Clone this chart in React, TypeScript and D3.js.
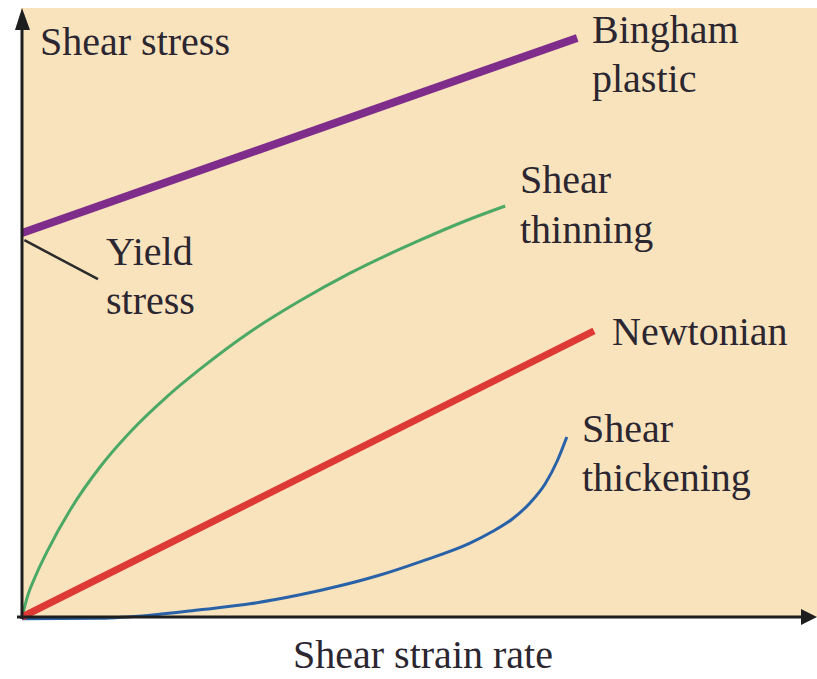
import * as d3 from "d3";

// curves (x = shear strain rate, y = shear stress, arbitrary units)
const binghamX = [0, 6.94];
const binghamY = [6.4, 9.65];

const newtonianX = [0, 7.15];
const newtonianY = [0, 4.77];

const thinningX = [0, 0.075, 0.175, 0.325, 0.6, 0.975, 1.35, 1.81, 2.225, 2.85, 3.475, 4.1, 4.975, 5.54, 6.04];
const thinningY = [0, 0.37, 0.7, 1.12, 1.78, 2.5, 3.08, 3.67, 4.13, 4.75, 5.27, 5.73, 6.28, 6.6, 6.85];

const thickeningX = [0, 0.975, 1.6, 2.225, 2.85, 3.475, 3.975, 4.475, 4.975, 5.6, 5.875, 6.125, 6.35, 6.54, 6.69, 6.81];
const thickeningY = [-0.03, -0.02, 0.03, 0.12, 0.22, 0.37, 0.52, 0.7, 0.92, 1.23, 1.42, 1.63, 1.9, 2.22, 2.6, 3.0];

const yieldLeaderX = [0.03, 0.95];
const yieldLeaderY = [6.28, 5.63];

const W = 817;
const H = 679;
const x0 = 22;
const y0 = 617;

const x = d3.scaleLinear().domain([0, 10]).range([x0, x0 + 800]);
const y = d3.scaleLinear().domain([0, 10]).range([y0, y0 - 600]);

const zip = (xs: number[], ys: number[]) => xs.map((v, i) => [v, ys[i]] as [number, number]);

const line = d3.line<[number, number]>()
    .x((d) => x(d[0]))
    .y((d) => y(d[1]));

const smooth = d3.line<[number, number]>()
    .x((d) => x(d[0]))
    .y((d) => y(d[1]))
    .curve(d3.curveMonotoneX);

const textColor = "#2b2630";
const font = "'Liberation Serif', 'Times New Roman', serif";

export default function App() {
    return (
        <svg width={W} height={H} style={{ position: "absolute", left: 0, top: 0, background: "#fff" }}>
            <rect x={21} y={8} width={W - 21} height={y0 - 8} fill="#f9e3bd" />

            {/* curves */}
            <path d={smooth(zip(thickeningX, thickeningY)) || ""} fill="none" stroke="#2a62a8" strokeWidth={3} />
            <path d={smooth(zip(thinningX, thinningY)) || ""} fill="none" stroke="#4ba865" strokeWidth={3} />
            <path d={line(zip(newtonianX, newtonianY)) || ""} fill="none" stroke="#dd3a35" strokeWidth={7} />
            <path d={line(zip(binghamX, binghamY)) || ""} fill="none" stroke="#7f2d8a" strokeWidth={8} />
            <path d={line(zip(yieldLeaderX, yieldLeaderY)) || ""} fill="none" stroke="#2b2b2b" strokeWidth={2.5} />

            {/* axes */}
            <line x1={17} x2={805} y1={y0} y2={y0} stroke="#1e1e1e" strokeWidth={3} />
            <path d={`M817,${y0} L801,${y0 - 8} L801,${y0 + 8} Z`} fill="#1e1e1e" />
            <line x1={x0} x2={x0} y1={y0 + 2} y2={24} stroke="#1e1e1e" strokeWidth={3} />
            <path d={`M${x0},8 L${x0 - 7},30 L${x0 + 8},30 Z`} fill="#1e1e1e" />

            <g fontFamily={font} fontSize={40} fill={textColor}>
                <text x={x(0.225)} y={55}>Shear stress</text>
                <text x={592} y={43}>Bingham</text>
                <text x={592} y={92}>plastic</text>
                <text x={520} y={193}>Shear</text>
                <text x={520} y={243}>thinning</text>
                <text x={106} y={265}>Yield</text>
                <text x={106} y={314}>stress</text>
                <text x={612} y={345}>Newtonian</text>
                <text x={582} y={442}>Shear</text>
                <text x={582} y={491}>thickening</text>
                <text x={423} y={668} textAnchor="middle">Shear strain rate</text>
            </g>
        </svg>
    );
}
